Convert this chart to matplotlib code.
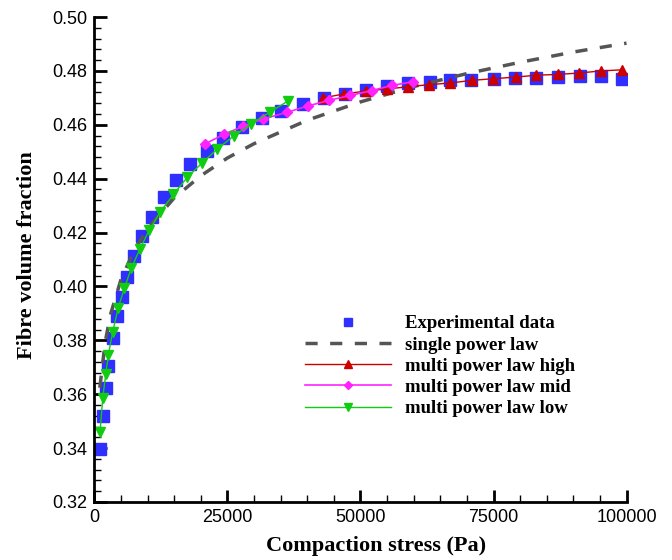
import numpy as np
import matplotlib
matplotlib.use("Agg")
import matplotlib.pyplot as plt
from matplotlib.ticker import MultipleLocator, FormatStrFormatter

exp_x = [1030, 1540, 2100, 2590, 3570, 4170, 5110, 6170, 7370, 8930, 10870,
         13060, 15360, 18010, 21090, 24150, 27780, 31430, 35060, 39250, 43080,
         47090, 50960, 55000, 58970, 63010, 66730, 70830, 75090, 79060, 83050,
         87070, 91170, 95260, 99230]
exp_y = [0.3395, 0.3518, 0.3622, 0.3705, 0.3807, 0.3889, 0.3960, 0.4035,
         0.4112, 0.4187, 0.4259, 0.4331, 0.4395, 0.4453, 0.4504, 0.4552,
         0.4592, 0.4626, 0.4651, 0.4676, 0.4698, 0.4713, 0.4730, 0.4743,
         0.4754, 0.4760, 0.4765, 0.4767, 0.4771, 0.4772, 0.4774, 0.4776,
         0.4782, 0.4780, 0.4769]

# single power law
single_x = [1000, 2000, 3000, 5000, 7500, 10000, 15000, 20000, 25000, 30000,
            40000, 50000, 60000, 70000, 80000, 90000, 100000]
single_y = [0.3624, 0.3792, 0.3895, 0.4027, 0.4136, 0.4215, 0.4329, 0.4411,
            0.4477, 0.4530, 0.4617, 0.4685, 0.4742, 0.4790, 0.4832, 0.4870,
            0.4903]

# multi power law high
high_x = [43010, 46990, 50960, 54940, 58910, 62880, 66840, 70940, 74980,
          79140, 83050, 87070, 91110, 95130, 99170]
high_y = [0.4700, 0.4715, 0.4725, 0.4733, 0.4741, 0.4749, 0.4755, 0.4765,
          0.4771, 0.4777, 0.4784, 0.4787, 0.4792, 0.4800, 0.4804]

# multi power law mid
mid_x = [20770, 24400, 27970, 31730, 36130, 40130, 44140, 48120, 52070,
         55920, 59910]
mid_y = [0.4529, 0.4565, 0.4595, 0.4622, 0.4646, 0.4670, 0.4691, 0.4709,
         0.4727, 0.4746, 0.4760]

# multi power law low
low_x = [1030, 1560, 2110, 2590, 3420, 4470, 5600, 6920, 8520, 10300, 12370,
         14850, 17440, 20150, 23080, 26220, 29470, 32990, 36430]
low_y = [0.3458, 0.3587, 0.3674, 0.3745, 0.3831, 0.3921, 0.3993, 0.4067,
         0.4139, 0.4209, 0.4277, 0.4342, 0.4405, 0.4457, 0.4510, 0.4559,
         0.4603, 0.4647, 0.4689]

sans = 'Liberation Sans'
serif = 'Liberation Serif'

fig = plt.figure(figsize=(6.72, 5.6), dpi=100)
ax = fig.add_axes([0.1406, 0.1036, 0.7917, 0.866])

ax.plot(exp_x, exp_y, 's', color='#2f2fff', markersize=8, linestyle='none',
        label='Experimental data')
ax.plot(single_x, single_y, color='#555555', linewidth=2.5, dashes=(3.5, 3.6),
        label='single power law')
ax.plot(high_x, high_y, '-^', color='#cc0000', linewidth=1.0, markersize=6.5,
        label='multi power law high')
ax.plot(mid_x, mid_y, '-D', color='#ff22ff', linewidth=1.2, markersize=4.6,
        label='multi power law mid')
ax.plot(low_x, low_y, '-v', color='#11cc11', linewidth=1.0, markersize=6.5,
        label='multi power law low')

ax.set_xlim(0, 100000)
ax.set_ylim(0.32, 0.50)
ax.xaxis.set_major_locator(MultipleLocator(25000))
ax.xaxis.set_minor_locator(MultipleLocator(5000))
ax.yaxis.set_major_locator(MultipleLocator(0.02))
ax.yaxis.set_minor_locator(MultipleLocator(0.004))
ax.yaxis.set_major_formatter(FormatStrFormatter('%.2f'))

for side in ['top', 'right']:
    ax.spines[side].set_visible(False)
for side in ['left', 'bottom']:
    ax.spines[side].set_linewidth(2)

ax.tick_params(which='major', direction='in', length=9, width=2, pad=5,
               labelsize=13)
ax.tick_params(which='minor', direction='in', length=5, width=1)
for lbl in ax.get_xticklabels() + ax.get_yticklabels():
    lbl.set_fontfamily(sans)

ax.set_xlabel('Compaction stress (Pa)', fontfamily=serif, fontweight='bold',
              fontsize=16)
ax.set_ylabel('Fibre volume fraction', fontfamily=serif, fontweight='bold',
              fontsize=16)
ax.xaxis.set_label_coords(0.529, -0.07)
ax.yaxis.set_label_coords(-0.1086, 0.509)

leg = ax.legend(loc='center left', bbox_to_anchor=(0.396, 0.28), frameon=False,
                borderpad=0, borderaxespad=0, handlelength=4.6,
                handletextpad=0.7, labelspacing=0.22, markerscale=0.8,
                prop={'family': serif, 'weight': 'bold', 'size': 13.5})

fig.savefig('out.png', dpi=100)
